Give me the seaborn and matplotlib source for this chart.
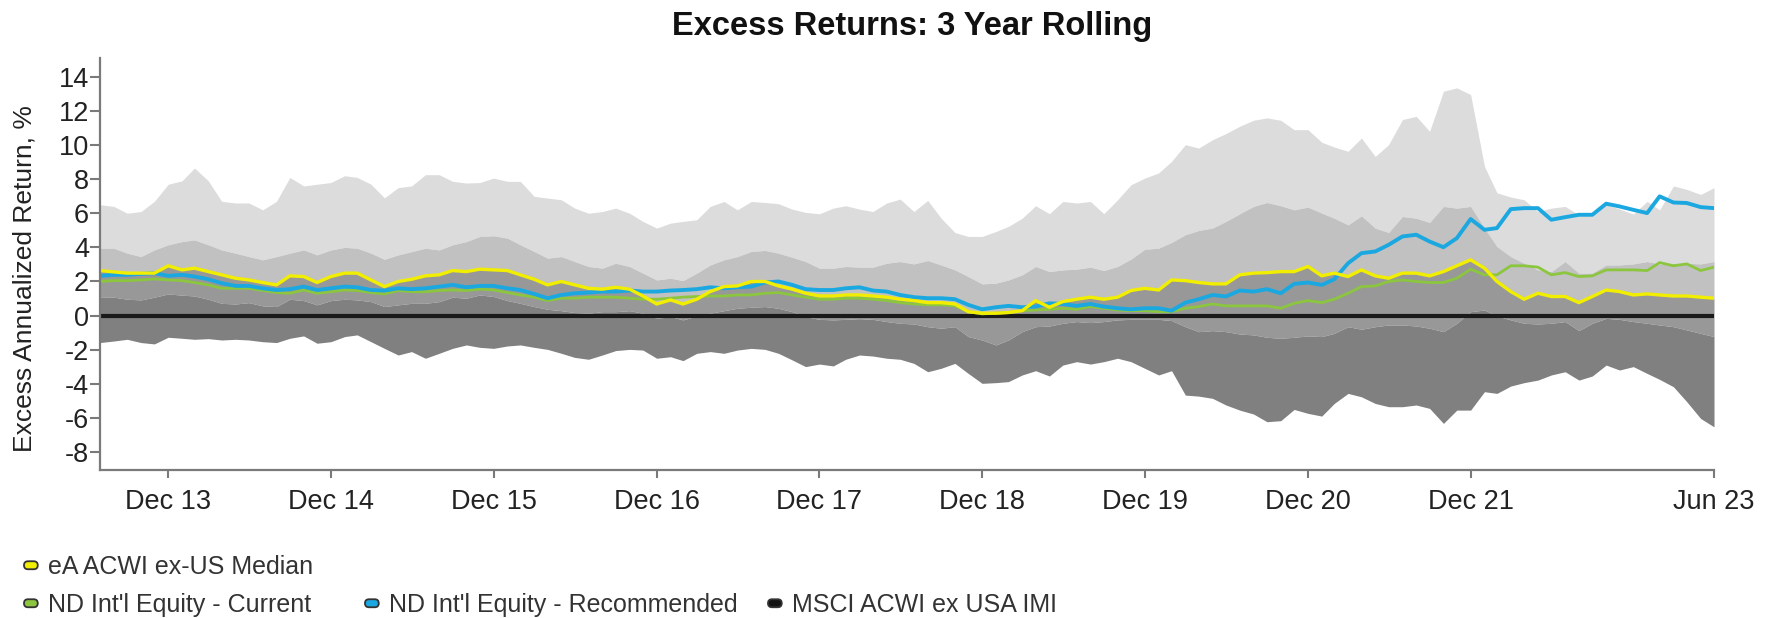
import numpy as np
import pandas as pd
import matplotlib
matplotlib.use('Agg')
import matplotlib.pyplot as plt
import seaborn as sns
from matplotlib.patches import Patch, FancyBboxPatch
from matplotlib.legend_handler import HandlerPatch

# monthly 3-year rolling excess returns, Jul 2013 - Jun 2023
dates = pd.date_range('2013-07-31', periods=120, freq='ME')

# peer universe percentiles (5th, 25th, 50th, 75th, 95th)
p95 = [6.5, 6.4, 6.0, 6.1, 6.7, 7.7, 7.9, 8.65, 7.9, 6.7, 6.6, 6.6, 6.2, 6.7, 8.1, 7.6, 7.7, 7.8, 8.2, 8.1, 7.7, 6.9, 7.5, 7.6,
       8.26, 8.26, 7.87, 7.77, 7.8, 8.06, 7.87, 7.87, 6.99, 6.89, 6.79, 6.3, 6.0, 6.1, 6.3, 6.0, 5.52, 5.13, 5.42, 5.52, 5.62, 6.4, 6.69, 6.2,
       6.69, 6.63, 6.56, 6.24, 6.05, 5.97, 6.3, 6.44, 6.24, 6.1, 6.6, 6.83, 6.1, 6.75, 5.71, 4.87, 4.64, 4.64, 4.93, 5.23, 5.71, 6.44, 5.97, 6.69,
       6.6, 6.69, 5.97, 6.79, 7.67, 8.06, 8.36, 9.04, 10.02, 9.82, 10.31, 10.67, 11.1, 11.45, 11.59, 11.45, 10.9, 10.9, 10.16, 9.88, 9.63, 10.41, 9.33, 10.02,
       11.49, 11.68, 10.8, 13.15, 13.35, 12.96, 8.75, 7.2, 6.95, 6.79, 6.1, 6.3, 6.4, 5.9, 5.95, 6.5, 6.25, 5.95, 6.7, 6.2, 7.6, 7.4, 7.1, 7.5]
p75 = [3.95, 3.95, 3.66, 3.46, 3.85, 4.15, 4.34, 4.44, 4.15, 3.85, 3.66, 3.46, 3.27, 3.46, 3.66, 3.85, 3.56, 3.85, 4.0, 3.95, 3.66, 3.3, 3.56, 3.75,
       3.95, 3.85, 4.15, 4.34, 4.64, 4.68, 4.54, 4.15, 3.76, 3.37, 3.46, 3.17, 2.88, 2.78, 3.07, 2.88, 2.49, 2.09, 2.19, 2.05, 2.49, 2.97, 3.27, 3.46,
       3.76, 3.82, 3.66, 3.42, 3.17, 2.78, 2.78, 2.88, 2.84, 2.84, 3.07, 3.17, 3.03, 3.23, 2.97, 2.68, 2.29, 1.86, 1.9, 2.09, 2.39, 2.88, 2.58, 2.68,
       2.72, 2.84, 2.64, 2.88, 3.31, 3.89, 3.95, 4.29, 4.74, 4.99, 5.13, 5.52, 5.97, 6.4, 6.63, 6.44, 6.2, 6.36, 6.01, 5.71, 5.32, 5.85, 5.13, 4.87,
       5.81, 5.71, 5.46, 6.4, 6.3, 6.4, 5.13, 4.05, 3.46, 3.07, 2.68, 2.58, 3.17, 2.49, 2.49, 2.97, 2.97, 3.03, 3.17, 3.03, 3.07, 3.07, 3.03, 3.17]
median = [2.64, 2.56, 2.49, 2.49, 2.49, 2.92, 2.68, 2.78, 2.58, 2.39, 2.19, 2.09, 1.94, 1.8, 2.33, 2.29, 1.94, 2.29, 2.49, 2.49, 2.09, 1.7, 2.0, 2.13,
          2.33, 2.39, 2.64, 2.58, 2.72, 2.68, 2.64, 2.39, 2.13, 1.8, 2.0, 1.8, 1.6, 1.55, 1.66, 1.55, 1.15, 0.68, 0.92, 0.68, 0.96, 1.41, 1.7, 1.74,
          2.0, 2.0, 1.74, 1.55, 1.31, 1.15, 1.15, 1.21, 1.21, 1.15, 1.08, 0.96, 0.88, 0.76, 0.76, 0.68, 0.23, 0.14, 0.14, 0.18, 0.29, 0.88, 0.49, 0.82,
          0.96, 1.08, 0.96, 1.08, 1.47, 1.6, 1.5, 2.09, 2.05, 1.94, 1.86, 1.86, 2.39, 2.49, 2.52, 2.58, 2.58, 2.88, 2.33, 2.49, 2.29, 2.68, 2.33, 2.19,
          2.49, 2.49, 2.33, 2.58, 2.92, 3.27, 2.78, 2.0, 1.41, 0.96, 1.31, 1.12, 1.12, 0.76, 1.12, 1.5, 1.41, 1.21, 1.27, 1.21, 1.15, 1.15, 1.08, 1.02]
p25 = [1.1, 1.08, 0.96, 0.92, 1.08, 1.27, 1.2, 1.15, 0.96, 0.72, 0.68, 0.76, 0.57, 0.53, 0.96, 0.88, 0.63, 0.88, 0.96, 0.92, 0.82, 0.53, 0.63, 0.72,
       0.72, 0.82, 1.08, 1.02, 1.21, 1.12, 0.88, 0.72, 0.53, 0.37, 0.29, 0.18, 0.14, 0.23, 0.23, 0.29, 0.14, -0.16, -0.06, -0.25, -0.02, 0.14, 0.29, 0.43,
       0.49, 0.53, 0.43, 0.23, -0.06, -0.22, -0.25, -0.22, -0.18, -0.22, -0.35, -0.45, -0.49, -0.65, -0.74, -0.65, -1.23, -1.43, -1.72, -1.43, -0.94, -0.65, -0.61, -0.45,
       -0.35, -0.41, -0.35, -0.25, -0.22, -0.22, -0.22, -0.29, -0.65, -0.94, -0.88, -0.94, -1.08, -1.13, -1.27, -1.33, -1.27, -1.19, -1.23, -1.04, -0.65, -0.8, -0.65, -0.55,
       -0.55, -0.61, -0.74, -0.94, -0.45, 0.23, 0.33, -0.02, -0.25, -0.45, -0.49, -0.45, -0.35, -0.88, -0.45, -0.16, -0.22, -0.35, -0.45, -0.55, -0.65, -0.84, -1.04, -1.23]
p5 = [-1.58, -1.49, -1.39, -1.58, -1.66, -1.27, -1.33, -1.39, -1.35, -1.43, -1.39, -1.43, -1.53, -1.58, -1.33, -1.19, -1.62, -1.53, -1.23, -1.13, -1.53, -1.92, -2.31, -2.11,
      -2.5, -2.21, -1.92, -1.72, -1.86, -1.92, -1.78, -1.72, -1.86, -1.98, -2.21, -2.45, -2.56, -2.31, -2.05, -1.98, -2.02, -2.5, -2.41, -2.64, -2.21, -2.11, -2.21, -2.02,
      -1.92, -1.98, -2.21, -2.6, -2.99, -2.84, -2.95, -2.56, -2.31, -2.37, -2.5, -2.56, -2.8, -3.29, -3.09, -2.8, -3.39, -3.97, -3.93, -3.87, -3.48, -3.23, -3.54, -2.9,
      -2.7, -2.84, -2.7, -2.5, -2.7, -3.09, -3.48, -3.23, -4.66, -4.72, -4.85, -5.24, -5.54, -5.77, -6.22, -6.16, -5.5, -5.73, -5.89, -5.15, -4.56, -4.76, -5.15, -5.34,
      -5.34, -5.24, -5.44, -6.32, -5.54, -5.54, -4.46, -4.56, -4.13, -3.93, -3.78, -3.48, -3.29, -3.78, -3.54, -2.9, -3.19, -2.99, -3.39, -3.74, -4.17, -5.05, -6.03, -6.52]

# portfolios
recommended = [2.33, 2.39, 2.39, 2.45, 2.49, 2.33, 2.39, 2.29, 2.13, 1.9, 1.74, 1.74, 1.6, 1.5, 1.55, 1.7, 1.5, 1.6, 1.7, 1.66, 1.5, 1.47, 1.6, 1.55,
               1.6, 1.7, 1.8, 1.66, 1.74, 1.74, 1.6, 1.5, 1.27, 1.02, 1.21, 1.31, 1.35, 1.41, 1.41, 1.47, 1.41, 1.41, 1.47, 1.5, 1.55, 1.66, 1.6, 1.66,
               1.7, 1.94, 2.0, 1.8, 1.55, 1.5, 1.5, 1.6, 1.66, 1.47, 1.41, 1.21, 1.08, 1.02, 1.02, 0.96, 0.63, 0.37, 0.49, 0.57, 0.49, 0.53, 0.72, 0.68,
               0.57, 0.68, 0.53, 0.43, 0.37, 0.43, 0.43, 0.29, 0.76, 0.96, 1.21, 1.12, 1.47, 1.41, 1.55, 1.31, 1.86, 1.94, 1.8, 2.13, 3.07, 3.66, 3.76, 4.15,
               4.64, 4.74, 4.34, 4.01, 4.54, 5.66, 5.03, 5.13, 6.24, 6.3, 6.3, 5.62, 5.77, 5.91, 5.91, 6.56, 6.4, 6.2, 6.01, 6.99, 6.63, 6.6, 6.36, 6.3]
current = [2.0, 2.05, 2.05, 2.09, 2.15, 2.09, 2.05, 1.94, 1.8, 1.6, 1.6, 1.6, 1.47, 1.35, 1.31, 1.5, 1.31, 1.4, 1.5, 1.47, 1.35, 1.27, 1.47, 1.4,
           1.4, 1.47, 1.5, 1.47, 1.55, 1.5, 1.35, 1.21, 1.08, 0.88, 1.02, 1.02, 1.08, 1.08, 1.08, 1.02, 0.96, 0.96, 1.02, 1.08, 1.12, 1.15, 1.15, 1.21,
           1.21, 1.31, 1.35, 1.21, 1.08, 0.96, 0.96, 1.02, 1.02, 0.96, 0.88, 0.76, 0.68, 0.63, 0.63, 0.57, 0.23, 0.1, 0.14, 0.18, 0.29, 0.33, 0.37, 0.43,
           0.37, 0.53, 0.43, 0.33, 0.29, 0.29, 0.23, 0.23, 0.43, 0.53, 0.68, 0.57, 0.57, 0.57, 0.57, 0.43, 0.72, 0.88, 0.76, 0.96, 1.31, 1.7, 1.74, 2.0,
           2.09, 2.0, 1.94, 1.94, 2.19, 2.72, 2.39, 2.39, 2.92, 2.92, 2.84, 2.39, 2.52, 2.29, 2.33, 2.68, 2.68, 2.68, 2.64, 3.11, 2.92, 3.03, 2.64, 2.84]
benchmark = [0.0] * 120

tick_idx = [5, 17, 29, 41, 53, 65, 77, 89, 101, 119]
tick_labels = ['Dec 13', 'Dec 14', 'Dec 15', 'Dec 16', 'Dec 17', 'Dec 18', 'Dec 19', 'Dec 20', 'Dec 21', 'Jun 23']
y_ticks = [-8, -6, -4, -2, 0, 2, 4, 6, 8, 10, 12, 14]

df = pd.DataFrame({'date': dates, 'p5': p5, 'p25': p25, 'median': median, 'p75': p75, 'p95': p95,
                   'current': current, 'recommended': recommended, 'benchmark': benchmark})

sns.set_theme(style='white')
plt.rcParams['font.family'] = ['Liberation Sans', 'DejaVu Sans']

fig = plt.figure(figsize=(17.67, 6.18), dpi=100)
ax = fig.add_axes([100/1767, 1 - 470/618, 1614/1767, 412/618])

# percentile bands
ax.fill_between(df['date'], df['p75'], df['p95'], color='#dcdcdc', lw=0)
ax.fill_between(df['date'], df['median'], df['p75'], color='#c0c1c0', lw=0)
ax.fill_between(df['date'], df['p25'], df['median'], color='#989898', lw=0)
ax.fill_between(df['date'], df['p5'], df['p25'], color='#7f807f', lw=0)

sns.lineplot(data=df, x='date', y='benchmark', color='#1a1a1a', lw=3.0, ax=ax)
sns.lineplot(data=df, x='date', y='current', color='#8cc63f', lw=2.0, ax=ax)
sns.lineplot(data=df, x='date', y='recommended', color='#1ba8e0', lw=2.8, ax=ax)
sns.lineplot(data=df, x='date', y='median', color='#f2ee00', lw=2.4, ax=ax)

ax.set_xlim(dates[0], dates[-1])
ax.set_ylim(-9.05, 15.1)
ax.set_xticks([dates[i] for i in tick_idx])
ax.set_xticklabels(tick_labels)
ax.set_yticks(y_ticks)
ax.set_yticklabels([str(v) for v in y_ticks])
ax.set_xlabel('')
ax.set_ylabel('')

for s in ['top', 'right']:
    ax.spines[s].set_visible(False)
for s in ['left', 'bottom']:
    ax.spines[s].set_color('#7a7a7a')
    ax.spines[s].set_linewidth(1.6)

ax.tick_params(axis='x', bottom=True, length=6, width=1.5, color='#7a7a7a', pad=8,
               labelsize=19.5, labelcolor='#222222')
ax.tick_params(axis='y', left=True, length=7, width=1.5, color='#7a7a7a', pad=1,
               labelsize=19.5, labelcolor='#222222')

fig.text(912/1767, 1 - 26/618, 'Excess Returns: 3 Year Rolling', ha='center', va='center',
         fontsize=23.5, fontweight='bold', color='#111111')
fig.text(25/1767, 1 - 279/618, 'Excess Annualized Return, %', ha='center', va='center',
         rotation=90, fontsize=19, color='#222222')


def pill(legend, orig_handle, xdescent, ydescent, width, height, fontsize):
    # flat rounded marker, centred on the text line
    h = fontsize * 0.32
    y0 = -ydescent + (height - h) / 2
    return FancyBboxPatch((-xdescent, y0), width, h,
                          boxstyle='round,pad=0,rounding_size=%f' % (h / 2))


# legend: one entry on the first row, three on the second
legend_items = [
    ('eA ACWI ex-US Median', '#f2ee00', 24, 567),
    ("ND Int'l Equity - Current", '#8cc63f', 24, 605),
    ("ND Int'l Equity - Recommended", '#1ba8e0', 365, 605),
    ('MSCI ACWI ex USA IMI', '#111111', 768, 605),
]
for lbl, col, px, py in legend_items:
    h = Patch(facecolor=col, edgecolor='#333333', linewidth=1.3)
    fig.legend(handles=[h], labels=[lbl], loc='center left', bbox_to_anchor=(px/1767, 1 - py/618),
               frameon=False, fontsize=18, handlelength=0.55, handleheight=0.7, handletextpad=0.4,
               borderpad=0, borderaxespad=0, labelcolor='#333333',
               handler_map={Patch: HandlerPatch(patch_func=pill)})

fig.savefig('out.png', dpi=100)
